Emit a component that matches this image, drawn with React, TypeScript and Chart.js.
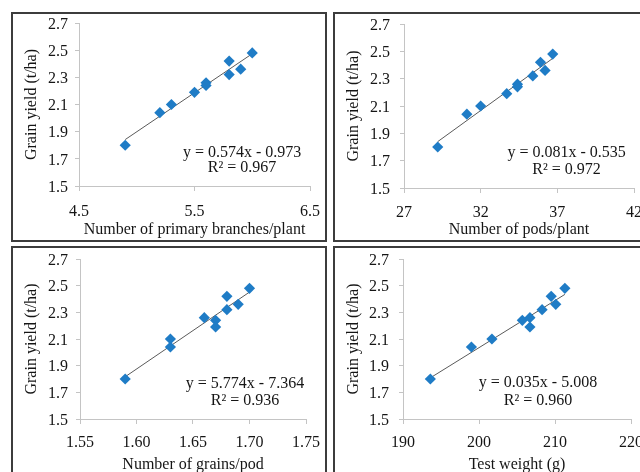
import React, { useEffect, useRef } from "react";
import { Chart, registerables } from "chart.js";

Chart.register(...registerables);

// ---------- data ----------
const branchX = [4.9, 5.2, 5.3, 5.5, 5.6, 5.6, 5.8, 5.8, 5.9, 6.0];
const branchY = [1.8, 2.04, 2.1, 2.19, 2.26, 2.24, 2.42, 2.32, 2.36, 2.48];

const podX = [29.2, 31.1, 32.0, 33.7, 34.4, 34.4, 35.9, 35.4, 36.2, 36.7];
const podY = [1.8, 2.04, 2.1, 2.19, 2.26, 2.24, 2.42, 2.32, 2.36, 2.48];

const grainX = [1.59, 1.63, 1.63, 1.66, 1.67, 1.67, 1.68, 1.68, 1.69, 1.7];
const grainY = [1.8, 2.04, 2.1, 2.26, 2.24, 2.19, 2.42, 2.32, 2.36, 2.48];

const weightX = [193.6, 199.0, 201.7, 205.7, 206.7, 206.7, 208.3, 209.5, 210.1, 211.3];
const weightY = [1.8, 2.04, 2.1, 2.24, 2.26, 2.19, 2.32, 2.42, 2.36, 2.48];

const yieldTicks = [1.5, 1.7, 1.9, 2.1, 2.3, 2.5, 2.7];
const branchTicks = [4.5, 5.5, 6.5];
const podTicks = [27, 32, 37, 42];
const grainTicks = [1.55, 1.6, 1.65, 1.7, 1.75];
const weightTicks = [190, 200, 210, 220];

const yTitle = "Grain yield (t/ha)";
const xTitles = [
  "Number of primary branches/plant",
  "Number of pods/plant",
  "Number of grains/pod",
  "Test weight (g)",
];
const equations = [
  "y = 0.574x - 0.973",
  "y = 0.081x - 0.535",
  "y = 5.774x - 7.364",
  "y = 0.035x - 5.008",
];
const r2Labels = ["R\u00B2 = 0.967", "R\u00B2 = 0.972", "R\u00B2 = 0.936", "R\u00B2 = 0.960"];

// ---------- layout ----------
const CW = 312;
const CH = 226;
const FS = 16;
const FONT = '"Liberation Serif", "Times New Roman", serif';
const TEXT = "#151515";
const AXIS = "#c4c4c4";
const MARK = "#1f7cc6";

type PanelDef = {
  xs: number[];
  ys: number[];
  xTicks: number[];
  xDec: number;
  xTitle: string;
  eq: string;
  r2: string;
  frameLeft: number;
  frameTop: number;
  area: { left: number; top: number; right: number; bottom: number };
  eqPos: { fx: number; fy: number; fy2: number };
  yPad: number;
  xPad: number;
  titlePad: number;
};

const panels: PanelDef[] = [
  {
    xs: branchX, ys: branchY, xTicks: branchTicks, xDec: 1, xTitle: xTitles[0],
    eq: equations[0], r2: r2Labels[0], frameLeft: 11, frameTop: 12,
    area: { left: 66, top: 9, right: 297, bottom: 172 },
    eqPos: { fx: 0.706, fy: 0.796, fy2: 0.888 }, yPad: 7, xPad: 11, titlePad: 1,
  },
  {
    xs: podX, ys: podY, xTicks: podTicks, xDec: 0, xTitle: xTitles[1],
    eq: equations[1], r2: r2Labels[1], frameLeft: 333, frameTop: 12,
    area: { left: 69, top: 10, right: 299, bottom: 174 },
    eqPos: { fx: 0.707, fy: 0.788, fy2: 0.886 }, yPad: 10, xPad: 10, titlePad: 1,
  },
  {
    xs: grainX, ys: grainY, xTicks: grainTicks, xDec: 2, xTitle: xTitles[2],
    eq: equations[2], r2: r2Labels[2], frameLeft: 11, frameTop: 246,
    area: { left: 67, top: 11, right: 293, bottom: 171 },
    eqPos: { fx: 0.73, fy: 0.781, fy2: 0.889 }, yPad: 8, xPad: 9, titlePad: 0,
  },
  {
    xs: weightX, ys: weightY, xTicks: weightTicks, xDec: 0, xTitle: xTitles[3],
    eq: equations[3], r2: r2Labels[3], frameLeft: 333, frameTop: 246,
    area: { left: 68, top: 11, right: 296, bottom: 171 },
    eqPos: { fx: 0.592, fy: 0.772, fy2: 0.886 }, yPad: 10, xPad: 9, titlePad: 0,
  },
];

function fitLine(xs: number[], ys: number[]) {
  const n = xs.length;
  const mx = xs.reduce((a, b) => a + b, 0) / n;
  const my = ys.reduce((a, b) => a + b, 0) / n;
  let sxy = 0;
  let sxx = 0;
  for (let i = 0; i < n; i++) {
    sxy += (xs[i] - mx) * (ys[i] - my);
    sxx += (xs[i] - mx) * (xs[i] - mx);
  }
  const b = sxy / sxx;
  const a = my - b * mx;
  const x0 = Math.min(...xs);
  const x1 = Math.max(...xs);
  return [
    { x: x0, y: a + b * x0 },
    { x: x1, y: a + b * x1 },
  ];
}

function zeroPad(s: any) {
  s.paddingLeft = 0;
  s.paddingRight = 0;
  s.paddingTop = 0;
  s.paddingBottom = 0;
}

function PanelChart({ p }: { p: PanelDef }) {
  const ref = useRef<HTMLCanvasElement | null>(null);
  useEffect(() => {
    if (!ref.current) return;
    const pts = p.xs.map((x, i) => ({ x, y: p.ys[i] }));
    const trend = fitLine(p.xs, p.ys);
    const labelPlugin = {
      id: "eqLabel",
      afterDatasetsDraw(chart: any) {
        const { ctx, chartArea } = chart;
        const w = chartArea.right - chartArea.left;
        const h = chartArea.bottom - chartArea.top;
        ctx.save();
        ctx.font = `${FS}px ${FONT}`;
        ctx.fillStyle = TEXT;
        ctx.textAlign = "center";
        ctx.textBaseline = "middle";
        ctx.fillText(p.eq, chartArea.left + w * p.eqPos.fx, chartArea.top + h * p.eqPos.fy);
        ctx.fillText(p.r2, chartArea.left + w * p.eqPos.fx, chartArea.top + h * p.eqPos.fy2);
        ctx.restore();
      },
    };
    const chart = new Chart(ref.current, {
      type: "scatter",
      data: {
        datasets: [
          {
            data: pts,
            pointStyle: "rectRot",
            pointRadius: 5.6,
            pointHoverRadius: 5.6,
            backgroundColor: MARK,
            borderColor: MARK,
            borderWidth: 0,
            showLine: false,
          },
          {
            data: trend,
            showLine: true,
            pointRadius: 0,
            borderColor: "#5a5a5a",
            borderWidth: 1,
            fill: false,
          },
        ],
      },
      options: {
        responsive: false,
        animation: false,
        devicePixelRatio: 1,
        events: [],
        layout: {
          padding: {
            left: 0,
            top: p.area.top,
            right: CW - p.area.right,
            bottom: 0,
          },
        },
        plugins: { legend: { display: false }, tooltip: { enabled: false } },
        scales: {
          x: {
            type: "linear",
            position: "bottom",
            min: p.xTicks[0],
            max: p.xTicks[p.xTicks.length - 1],
            afterBuildTicks: (s: any) => {
              s.ticks = p.xTicks.map((v) => ({ value: v }));
            },
            afterFit: (s: any) => {
              s.height = CH - p.area.bottom;
              zeroPad(s);
            },
            ticks: {
              autoSkip: false,
              maxRotation: 0,
              padding: p.xPad,
              color: TEXT,
              font: { family: FONT, size: FS },
              callback: (v: any) => Number(v).toFixed(p.xDec),
            },
            grid: {
              display: true,
              drawOnChartArea: false,
              drawTicks: true,
              tickLength: 5,
              color: AXIS,
            },
            border: { display: true, color: AXIS, width: 1 },
            title: {
              display: true,
              text: p.xTitle,
              color: TEXT,
              font: { family: FONT, size: FS },
              padding: { top: 0, bottom: p.titlePad },
            },
          },
          y: {
            type: "linear",
            position: "left",
            min: 1.5,
            max: 2.7,
            afterBuildTicks: (s: any) => {
              s.ticks = yieldTicks.map((v) => ({ value: v }));
            },
            afterFit: (s: any) => {
              s.width = p.area.left;
              zeroPad(s);
            },
            ticks: {
              padding: p.yPad,
              labelOffset: 1.5,
              color: TEXT,
              font: { family: FONT, size: FS },
              callback: (v: any) => Number(v).toFixed(1),
            },
            grid: {
              display: true,
              drawOnChartArea: false,
              drawTicks: true,
              tickLength: 4,
              color: AXIS,
            },
            border: { display: true, color: AXIS, width: 1 },
            title: {
              display: true,
              text: yTitle,
              color: TEXT,
              font: { family: FONT, size: FS },
              padding: { top: 9, bottom: 0 },
            },
          },
        },
      },
      plugins: [labelPlugin],
    } as any);
    return () => chart.destroy();
  }, [p]);

  return (
    <div
      style={{
        position: "absolute",
        left: p.frameLeft,
        top: p.frameTop,
        width: CW + 4,
        height: CH + 4,
        border: "2px solid #3c3c3c",
        boxSizing: "border-box",
        background: "#fff",
      }}
    >
      <canvas ref={ref} width={CW} height={CH} style={{ display: "block", width: CW, height: CH }} />
    </div>
  );
}

export default function App() {
  return (
    <div
      style={{
        position: "absolute",
        left: 0,
        top: 0,
        width: 640,
        height: 472,
        overflow: "hidden",
        background: "#fff",
      }}
    >
      {panels.map((p, i) => (
        <PanelChart key={i} p={p} />
      ))}
    </div>
  );
}
